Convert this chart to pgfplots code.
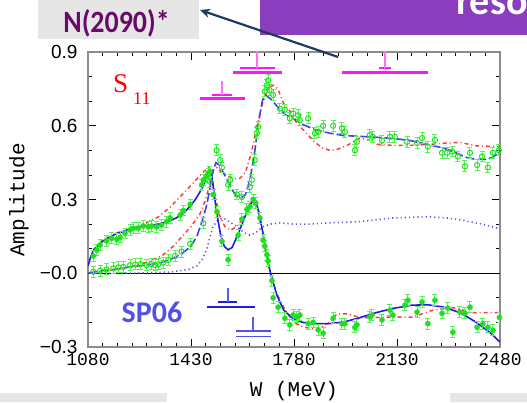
\documentclass[border=0pt]{standalone}
\usepackage{pgfplots}
\pgfplotsset{compat=1.18}
\usepackage{pgfplotstable}
\usepackage{graphicx}
\usepackage{fontspec}
\usetikzlibrary{arrows.meta}
\setmainfont{Liberation Serif}
\newfontfamily\monof{Liberation Mono}
\newfontfamily\sansf{Liberation Sans}
\newfontfamily\calib{Carlito}

\definecolor{bannergray}{RGB}{231,230,230}
\definecolor{bannerpurple}{RGB}{138,62,190}
\definecolor{npurple}{RGB}{105,10,105}
\definecolor{arrowcol}{RGB}{31,58,95}
\definecolor{spblue}{RGB}{80,80,235}
\definecolor{fitblue}{RGB}{30,30,225}
\definecolor{dashblue}{RGB}{60,70,235}
\definecolor{dotblue}{RGB}{90,90,235}
\definecolor{oldred}{RGB}{255,60,60}
\definecolor{ptgreen}{RGB}{30,225,30}
\definecolor{errgreen}{RGB}{90,240,90}
\definecolor{resmag}{RGB}{255,20,255}
\definecolor{resmaglt}{RGB}{255,110,255}

% SP06 solution, real part
\pgfplotstableread{
W A
1080 0.03
1090 0.07
1100 0.095
1115 0.115
1130 0.13
1150 0.145
1175 0.16
1200 0.17
1230 0.18
1260 0.19
1290 0.195
1320 0.20
1350 0.21
1380 0.225
1405 0.245
1425 0.27
1445 0.30
1465 0.34
1480 0.38
1490 0.41
1495 0.42
1500 0.40
1508 0.33
1518 0.24
1530 0.16
1543 0.11
1556 0.095
1570 0.105
1590 0.16
1610 0.22
1628 0.27
1642 0.30
1650 0.295
1660 0.25
1675 0.16
1690 0.05
1705 -0.02
1722 -0.09
1745 -0.15
1777 -0.185
1810 -0.20
1850 -0.205
1900 -0.205
1950 -0.198
2000 -0.182
2060 -0.16
2116 -0.143
2180 -0.13
2232 -0.128
2286 -0.137
2344 -0.16
2400 -0.20
2450 -0.245
2480 -0.28
}\reSP

% SP06 solution, imaginary part
\pgfplotstableread{
W A
1080 0.0
1120 0.01
1165 0.015
1220 0.025
1280 0.033
1335 0.045
1382 0.068
1410 0.09
1430 0.11
1450 0.15
1470 0.22
1484 0.28
1495 0.35
1505 0.42
1515 0.45
1525 0.44
1540 0.41
1560 0.36
1580 0.32
1600 0.305
1615 0.32
1630 0.38
1645 0.48
1660 0.62
1672 0.70
1682 0.725
1700 0.71
1722 0.68
1750 0.645
1777 0.63
1810 0.605
1850 0.585
1900 0.57
1950 0.56
2000 0.557
2062 0.553
2120 0.548
2174 0.54
2230 0.525
2286 0.51
2330 0.49
2368 0.47
2400 0.463
2436 0.463
2460 0.475
2480 0.50
}\imSP

% previous solution, real part
\pgfplotstableread{
W A
1080 0.03
1100 0.10
1130 0.135
1170 0.16
1220 0.18
1270 0.20
1320 0.23
1360 0.27
1400 0.32
1440 0.37
1470 0.41
1490 0.43
1500 0.40
1510 0.33
1525 0.24
1545 0.19
1565 0.175
1590 0.195
1620 0.25
1645 0.285
1655 0.28
1668 0.21
1685 0.09
1700 0.0
1720 -0.08
1750 -0.15
1780 -0.20
1810 -0.218
1858 -0.23
1900 -0.20
1926 -0.165
1960 -0.165
2004 -0.18
2060 -0.18
2116 -0.178
2184 -0.178
2252 -0.15
2320 -0.14
2388 -0.16
2480 -0.16
}\reOld

% previous solution, imaginary part
\pgfplotstableread{
W A
1080 0.0
1150 0.01
1220 0.025
1280 0.045
1330 0.07
1370 0.11
1400 0.15
1430 0.19
1460 0.24
1480 0.30
1495 0.37
1507 0.42
1517 0.43
1530 0.415
1550 0.40
1575 0.385
1595 0.385
1615 0.41
1635 0.49
1655 0.60
1675 0.70
1695 0.755
1710 0.765
1725 0.75
1745 0.69
1766 0.66
1790 0.61
1810 0.585
1845 0.54
1875 0.51
1902 0.50
1930 0.505
1960 0.52
2004 0.55
2040 0.54
2062 0.525
2116 0.52
2174 0.52
2250 0.525
2300 0.53
2344 0.532
2402 0.518
2480 0.515
}\imOld

% Im T - |T|^2
\pgfplotstableread{
W A
1080 0.0
1200 0.0
1300 0.002
1358 0.005
1420 0.015
1450 0.03
1470 0.06
1484 0.10
1495 0.15
1505 0.19
1520 0.215
1539 0.225
1560 0.21
1586 0.19
1610 0.165
1630 0.155
1650 0.165
1675 0.19
1700 0.20
1732 0.205
1780 0.20
1834 0.20
1900 0.205
2004 0.21
2116 0.225
2232 0.23
2300 0.225
2344 0.217
2420 0.20
2480 0.18
}\unit

% single-energy fits, real part
\pgfplotstableread{
W A
1098 0.07
1110 0.094
1121 0.115
1143 0.132
1160 0.142
1178 0.138
1189 0.146
1206 0.162
1223 0.176
1234 0.183
1251 0.183
1268 0.192
1285 0.189
1296 0.192
1313 0.189
1330 0.196
1347 0.21
1359 0.225
1393 0.237
1404 0.255
1427 0.28
1466 0.359
1472 0.379
1483 0.393
1494 0.413
1505 0.32
1518 0.25
1535 0.13
1556 0.055
1590 0.155
1603 0.22
1620 0.26
1630 0.27
1641 0.30
1650 0.285
1664 0.225
1675 0.135
1681 0.11
1688 0.075
1692 0.05
1705 -0.03
1709 -0.10
1726 -0.138
1749 -0.183
1766 -0.21
1777 -0.17
1790 -0.178
1800 -0.17
1828 -0.205
1845 -0.20
1862 -0.23
1879 -0.244
1913 -0.183
1943 -0.205
1953 -0.205
1987 -0.22
1994 -0.21
2038 -0.178
2045 -0.17
2079 -0.19
2106 -0.15
2116 -0.17
2157 -0.13
2167 -0.11
2198 -0.158
2215 -0.117
2235 -0.205
2259 -0.11
2283 -0.163
2303 -0.142
2320 -0.24
2344 -0.158
2361 -0.163
2378 -0.138
2402 -0.22
2422 -0.205
2439 -0.22
2456 -0.232
2478 -0.18
}\reSE

% single-energy fits, imaginary part
\pgfplotstableread{
W A
1098 0.006
1121 0.010
1143 0.016
1166 0.020
1183 0.024
1200 0.026
1223 0.033
1240 0.036
1257 0.037
1279 0.033
1296 0.037
1308 0.033
1319 0.036
1336 0.043
1353 0.054
1376 0.07
1398 0.088
1427 0.12
1472 0.203
1489 0.406
1494 0.372
1517 0.50
1529 0.46
1535 0.43
1556 0.36
1563 0.38
1586 0.32
1603 0.31
1630 0.35
1637 0.38
1647 0.46
1654 0.57
1658 0.595
1681 0.74
1688 0.765
1692 0.785
1697 0.745
1709 0.725
1732 0.67
1749 0.665
1766 0.63
1777 0.65
1794 0.643
1800 0.623
1828 0.63
1851 0.57
1862 0.575
1879 0.60
1913 0.60
1943 0.59
1953 0.575
1987 0.50
1994 0.535
2038 0.562
2048 0.555
2079 0.54
2106 0.555
2123 0.555
2164 0.535
2198 0.53
2215 0.55
2235 0.515
2259 0.542
2283 0.49
2300 0.49
2317 0.495
2337 0.475
2361 0.435
2378 0.49
2402 0.44
2419 0.475
2439 0.43
2456 0.49
2476 0.50
}\imSE

\begin{document}
\begin{tikzpicture}[x=1pt,y=1pt]
\useasboundingbox (0,0) rectangle (527,402);

% header boxes
\fill[bannergray] (38,363) rectangle (199,402);
\node[font=\calib\bfseries\fontsize{31}{31}\selectfont, text=npurple, anchor=base, inner sep=0pt] at (116.5,369) {\scalebox{0.9}[1]{N(2090)*}};
\fill[bannerpurple] (260,367) rectangle (527,402);
\node[font=\calib\bfseries\fontsize{40}{40}\selectfont, text=white, anchor=base west, inner sep=0pt] at (456,387) {resonances};
% footer boxes
\fill[bannergray] (0,0) rectangle (167,9);
\fill[bannergray] (450,0) rectangle (527,9);

\begin{axis}[
  at={(88pt,55pt)}, anchor=south west,
  width=412pt, height=295pt, scale only axis,
  xmin=1080, xmax=2480, ymin=-0.3, ymax=0.9,
  xtick={1080,1430,1780,2130,2480},
  minor xtick={1130,1180,1230,1280,1330,1380,1480,1530,1580,1630,1680,1730,1830,1880,1930,1980,2030,2080,2180,2230,2280,2330,2380,2430},
  ytick={-0.3,0,0.3,0.6,0.9},
  yticklabels={−0.3,−0.0,0.3,0.6,0.9},
  minor ytick={-0.2,-0.1,0.1,0.2,0.4,0.5,0.7,0.8},
  xticklabels={1080,1430,1780,2130,2480},
  tick align=inside,
  major tick length=8pt, minor tick length=4pt,
  every tick/.style={black, line width=0.8pt},
  axis line style={black!45, line width=1.2pt},
  xticklabel style={font=\monof\fontsize{18}{18}\selectfont, yshift=-3pt},
  yticklabel style={font=\sansf\fontsize{19}{19}\selectfont, xshift=-7pt},
  clip=true,
]
% zero line
\addplot[black, line width=1.2pt] coordinates {(1080,0) (2480,0)};

% curves
\addplot[dotblue, line width=1.6pt, dash pattern=on 1.2pt off 3pt] table[x=W,y=A] {\unit};
\addplot[oldred, line width=1.5pt, dash pattern=on 4pt off 3pt on 1pt off 3pt] table[x=W,y=A] {\reOld};
\addplot[oldred, line width=1.5pt, dash pattern=on 4pt off 3pt on 1pt off 3pt] table[x=W,y=A] {\imOld};
\addplot[fitblue, line width=1.6pt] table[x=W,y=A] {\reSP};
\addplot[dashblue, line width=1.6pt, dash pattern=on 9pt off 3pt] table[x=W,y=A] {\imSP};

% single-energy points
\addplot[only marks, mark=*, mark size=2.6pt, color=ptgreen, mark options={fill=ptgreen, draw=ptgreen},
  error bars/.cd, y dir=both, y fixed=0.022,
  error bar style={errgreen, line width=1pt},
  error mark options={rotate=90, mark size=2.5pt, errgreen, line width=1pt}]
  table[x=W,y=A] {\reSE};
\addplot[only marks, mark=o, mark size=2.6pt, color=ptgreen, mark options={draw=ptgreen, line width=1pt},
  error bars/.cd, y dir=both, y fixed=0.022,
  error bar style={errgreen, line width=1pt},
  error mark options={rotate=90, mark size=2.5pt, errgreen, line width=1pt}]
  table[x=W,y=A] {\imSE};

% resonance widths (PDG)
\addplot[resmag, line width=3pt] coordinates {(1460,0.709) (1613,0.709)};
\addplot[resmag, line width=2.5pt] coordinates {(1501,0.725) (1569,0.725)};
\addplot[resmaglt, line width=1.3pt] coordinates {(1535,0.725) (1535,0.782)};
\addplot[resmag, line width=3pt] coordinates {(1573,0.815) (1739,0.815)};
\addplot[resmag, line width=2.5pt] coordinates {(1596,0.835) (1715,0.835)};
\addplot[resmaglt, line width=1.3pt] coordinates {(1654,0.835) (1654,0.92)};
\addplot[resmag, line width=3pt] coordinates {(1943,0.815) (2235,0.815)};
\addplot[resmag, line width=2.5pt] coordinates {(2069,0.835) (2110,0.835)};
\addplot[resmaglt, line width=1.3pt] coordinates {(2089,0.835) (2089,0.92)};

% resonance widths (SP06)
\addplot[fitblue, line width=2.6pt] coordinates {(1484,-0.1375) (1647,-0.1375)};
\addplot[fitblue, line width=2pt] coordinates {(1522,-0.117) (1586,-0.117)};
\addplot[dotblue, line width=1.3pt] coordinates {(1556,-0.117) (1556,-0.060)};
\addplot[spblue, line width=1.8pt] coordinates {(1583,-0.236) (1702,-0.236)};
\addplot[spblue, line width=1.8pt] coordinates {(1583,-0.257) (1702,-0.257)};
\addplot[dotblue, line width=1.3pt] coordinates {(1641,-0.236) (1641,-0.178)};
\end{axis}

% axis titles
\node[font=\monof\fontsize{21}{21}\selectfont, anchor=base] at (294,6) {W (MeV)};
\node[font=\monof\fontsize{21}{21}\selectfont, rotate=90] at (19,202) {Amplitude};

% partial-wave and solution labels
\node[font=\fontsize{27}{27}\selectfont, text=red, anchor=base west, inner sep=0pt] at (113,309) {S};
\node[font=\fontsize{18}{18}\selectfont, text=red, anchor=base west, inner sep=0pt] at (133,297) {11};
\node[font=\calib\bfseries\fontsize{30}{30}\selectfont, text=spblue] at (152,90) {SP06};

% pointer to the N(2090) estimate
\draw[arrowcol, line width=2.2pt, -{Stealth[length=10pt,width=9pt]}] (338,345) -- (200,392);
\end{tikzpicture}
\end{document}
